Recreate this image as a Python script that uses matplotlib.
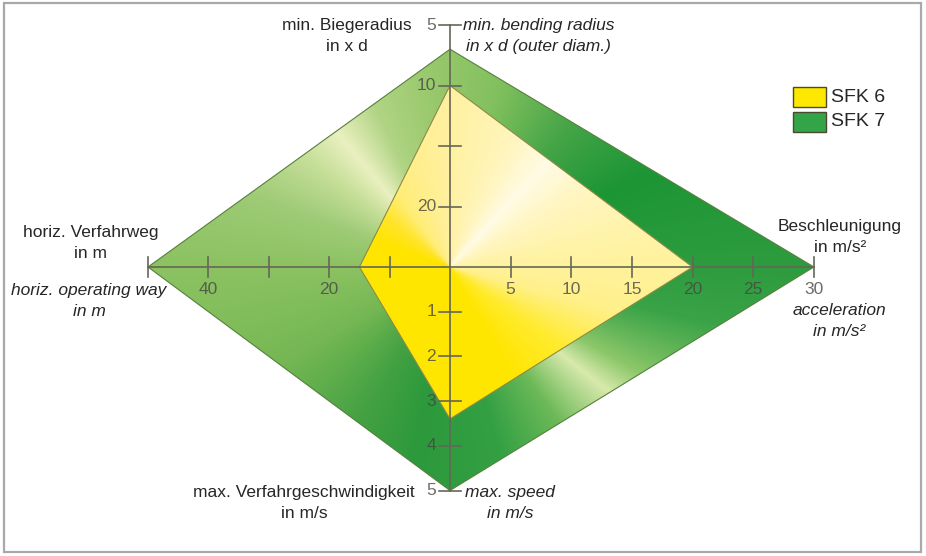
import numpy as np
import matplotlib.pyplot as plt
from matplotlib.patches import Polygon, Rectangle
from matplotlib.colors import to_rgb

plt.rcParams['font.family'] = ['Liberation Sans', 'DejaVu Sans']

# Werte je Achse: SFK 6, SFK 7
series = ['SFK 6', 'SFK 7']
bend_radius = [10, 7]        # min. Biegeradius in x d (Achse nach oben, invertiert)
acceleration = [20, 30]      # Beschleunigung in m/s² (rechts)
max_speed = [3.4, 5]         # max. Verfahrgeschwindigkeit in m/s (unten)
travel_way = [15, 50]        # horiz. Verfahrweg in m (links)

radius_ticks = [5, 10, 15, 20]
radius_labels = ['5', '10', '', '20']
accel_ticks = [5, 10, 15, 20, 25, 30]
accel_labels = ['5', '10', '15', '20', '25', '30']
speed_ticks = [1, 2, 3, 4, 5]
speed_labels = ['1', '2', '3', '4', '5']
way_ticks = [10, 20, 30, 40, 50]
way_labels = ['', '20', '', '40', '']

W, H = 926, 556
CX, CY = 450, 267
RADIUS_ZERO = 25


def pt(axis, v):
    # Wert auf einer der vier Achsen -> Position im Bild
    if axis == 'radius':
        return CX, CY - (RADIUS_ZERO - v) * 12.1
    if axis == 'accel':
        return CX + v * 12.13, CY
    if axis == 'speed':
        return CX, CY + v * 44.7
    return CX - v * 6.04, CY


def shape(i):
    return [pt('radius', bend_radius[i]), pt('accel', acceleration[i]),
            pt('speed', max_speed[i]), pt('way', travel_way[i])]


green_stops = [(-180, '#8cc262'), (-150, '#74b753'), (-120, '#43a142'),
               (-100, '#2c993c'), (-75, '#33a044'), (-55, '#6cb957'),
               (-38, '#d8e9ac'), (-29, '#8cc76a'), (-12, '#3aa347'),
               (0, '#2d9c3e'), (25, '#1c9535'), (50, '#45a547'),
               (75, '#82c05e'), (95, '#98c86c'), (115, '#b0d484'),
               (130, '#eaf0c0'), (142, '#c8e09a'), (160, '#9fcb77'),
               (180, '#8cc262')]
yellow_stops = [(-180, '#ffe600'), (-60, '#ffe600'), (-35, '#ffeb30'),
                (-15, '#fff08a'), (0, '#fff29c'), (30, '#fff6c2'),
                (47, '#fffbe4'), (65, '#fff5bc'), (95, '#fff09c'),
                (125, '#ffed78'), (142, '#ffe52a'), (160, '#ffe400'),
                (180, '#ffe600')]

yy, xx = np.mgrid[0:H, 0:W] + 0.5
angle = np.degrees(np.arctan2(CY - yy, xx - CX))

fig = plt.figure(figsize=(W / 100, H / 100), dpi=100)
ax = fig.add_axes([0, 0, 1, 1])


def conic_fill(poly, stops, edge, z):
    a = [s[0] for s in stops]
    c = np.array([to_rgb(s[1]) for s in stops])
    img = np.dstack([np.interp(angle, a, c[:, k]) for k in range(3)])
    patch = Polygon(poly, closed=True, fc='none', ec=edge, lw=0.8, zorder=z + 0.5)
    ax.add_patch(patch)
    im = ax.imshow(img, extent=(0, W, H, 0), zorder=z, interpolation='bilinear')
    im.set_clip_path(patch)


conic_fill(shape(1), green_stops, '#56803c', 1)
conic_fill(shape(0), yellow_stops, '#8c8a48', 2)

axis_col = '#666657'
tick_col = (0.28, 0.28, 0.26)
tick_kw = dict(fontsize=12.5, color=tick_col, alpha=0.8, zorder=6)
# Achsenlinien
x0, _ = pt('way', way_ticks[-1])
x1, _ = pt('accel', accel_ticks[-1])
ax.plot([x0, x1], [CY, CY], color=axis_col, lw=1.2, zorder=5)
_, y0 = pt('radius', radius_ticks[0])
_, y1 = pt('speed', speed_ticks[-1])
ax.plot([CX, CX], [y0, y1], color=axis_col, lw=1.2, zorder=5)

# Teilstriche und Beschriftung
for v, lab in zip(way_ticks, way_labels):
    x, y = pt('way', v)
    ax.plot([x, x], [y - 10, y + 10], color=axis_col, lw=1.2, zorder=5)
    ax.text(x, y + 22, lab, ha='center', va='center', **tick_kw)
for v, lab in zip(accel_ticks, accel_labels):
    x, y = pt('accel', v)
    ax.plot([x, x], [y - 10, y + 10], color=axis_col, lw=1.2, zorder=5)
    ax.text(x, y + 22, lab, ha='center', va='center', **tick_kw)
for v, lab in zip(radius_ticks, radius_labels):
    x, y = pt('radius', v)
    ax.plot([x - 11, x + 11], [y, y], color=axis_col, lw=1.2, zorder=5)
    ax.text(x - 14, y, lab, ha='right', va='center', **tick_kw)
for v, lab in zip(speed_ticks, speed_labels):
    x, y = pt('speed', v)
    ax.plot([x - 11, x + 11], [y, y], color=axis_col, lw=1.2, zorder=5)
    ax.text(x - 14, y, lab, ha='right', va='center', **tick_kw)

# Achsentitel deutsch / englisch
txt = dict(fontsize=12.5, color='#262626', multialignment='center', linespacing=1.42, zorder=6)
ax.text(412, 36, 'min. Biegeradius\nin x d', ha='right', va='center', **txt)
ax.text(463, 36, 'min. bending radius\nin x d (outer diam.)', ha='left', va='center', style='italic', **txt)
ax.text(91, 243, 'horiz. Verfahrweg\nin m', ha='center', va='center', **txt)
ax.text(89, 301, 'horiz. operating way\nin m', ha='center', va='center', style='italic', **txt)
ax.text(840, 237, 'Beschleunigung\nin m/s²', ha='center', va='center', **txt)
ax.text(839, 321, 'acceleration\nin m/s²', ha='center', va='center', style='italic', **txt)
ax.text(415, 503, 'max. Verfahrgeschwindigkeit\nin m/s', ha='right', va='center', **txt)
ax.text(465, 503, 'max. speed\nin m/s', ha='left', va='center', style='italic', **txt)

# Legende
for i, (name, col) in enumerate(zip(series, ['#ffe800', '#33a447'])):
    ax.add_patch(Rectangle((793, 87 + i * 25), 33, 20, fc=col, ec='#4a4a30', lw=1.0, zorder=6))
    ax.text(831, 97 + i * 25, name, ha='left', va='center', fontsize=14, color='#262626', zorder=6)

# Rahmen
ax.add_patch(Rectangle((4, 3), 917, 549, fc='none', ec='#a9a9a9', lw=1.6, zorder=7))

ax.set_xlim(0, W)
ax.set_ylim(H, 0)
ax.set_aspect('auto')
ax.axis('off')
fig.savefig('out.png', dpi=100)
